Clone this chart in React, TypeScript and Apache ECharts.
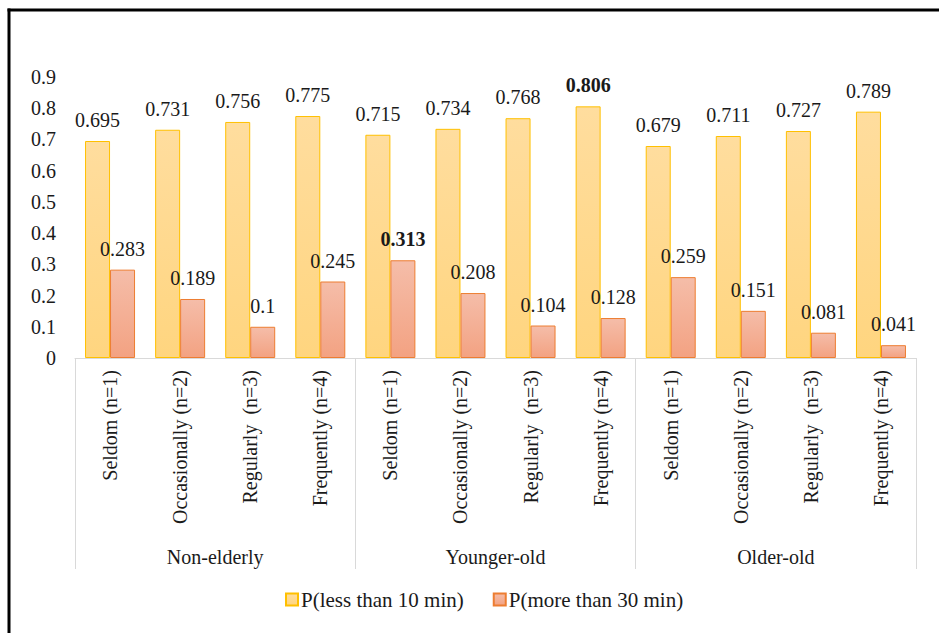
import React, { useEffect, useRef } from "react";
import * as echarts from "echarts";

// Frequency categories, repeated for each age group
const categories = [
  "Seldom (n=1)", "Occasionally (n=2)", "Regularly  (n=3)", "Frequently (n=4)",
  "Seldom (n=1)", "Occasionally (n=2)", "Regularly  (n=3)", "Frequently (n=4)",
  "Seldom (n=1)", "Occasionally (n=2)", "Regularly  (n=3)", "Frequently (n=4)",
];
const groups = ["Non-elderly", "Younger-old", "Older-old"];

const lessThan10 = [0.695, 0.731, 0.756, 0.775, 0.715, 0.734, 0.768, 0.806, 0.679, 0.711, 0.727, 0.789];
const moreThan30 = [0.283, 0.189, 0.1, 0.245, 0.313, 0.208, 0.104, 0.128, 0.259, 0.151, 0.081, 0.041];

const seriesNames = ["P(less than 10 min)", "P(more than 30 min)"];

const FONT = "Liberation Serif";
const TEXT = "#1a1a1a";

// Highlight the largest value of each series in bold
const withBoldMax = (values: number[]) => {
  const max = Math.max(...values);
  return values.map((v) =>
    v === max
      ? { value: v, label: { fontWeight: "bold" } }
      : { value: v, label: { fontWeight: "normal" } }
  );
};

const text = (extra: Record<string, unknown> = {}) => ({
  fontFamily: FONT,
  fontSize: 20,
  color: TEXT,
  ...extra,
});

export default function App() {
  const ref = useRef<HTMLDivElement>(null);

  useEffect(() => {
    if (!ref.current) return;
    const chart = echarts.init(ref.current, null, { renderer: "svg" });
    chart.setOption({
      animation: false,
      backgroundColor: "#ffffff",
      textStyle: text(),
      grid: { left: 75, right: 23, top: 77, bottom: 275, containLabel: false },
      legend: {
        data: seriesNames,
        left: 285,
        top: 589,
        padding: 0,
        icon: "rect",
        itemWidth: 12,
        itemHeight: 12,
        itemGap: 29,
        textStyle: text({ fontSize: 21, padding: [0, 0, 0, -2] }),
      },
      xAxis: [
        {
          type: "category",
          data: categories,
          axisLine: { show: true, lineStyle: { color: "#d9d9d9", width: 1 } },
          axisTick: { show: false },
          axisLabel: text({ rotate: 90, margin: 12, interval: 0 }),
        },
        {
          type: "category",
          data: groups,
          position: "bottom",
          offset: 211,
          axisLine: { show: false },
          axisTick: {
            show: true,
            inside: true,
            length: 211,
            lineStyle: { color: "#d9d9d9", width: 1 },
          },
          axisLabel: text({ inside: true, margin: 2, interval: 0 }),
        },
      ],
      yAxis: {
        type: "value",
        min: 0,
        max: 0.9,
        interval: 0.1,
        axisLine: { show: false },
        axisTick: { show: false },
        splitLine: { show: false },
        axisLabel: text({ margin: 19 }),
      },
      series: [
        {
          name: seriesNames[0],
          type: "bar",
          xAxisIndex: 0,
          barWidth: 25,
          barGap: "0%",
          data: withBoldMax(lessThan10),
          itemStyle: {
            color: new echarts.graphic.LinearGradient(0, 0, 0, 1, [
              { offset: 0, color: "#ffdd9e" },
              { offset: 1, color: "#ffd57f" },
            ]),
            borderColor: "#ffc000",
            borderWidth: 1,
          },
          label: text({ show: true, position: "top", distance: 11 }),
        },
        {
          name: seriesNames[1],
          type: "bar",
          xAxisIndex: 0,
          barWidth: 25,
          barGap: "0%",
          data: withBoldMax(moreThan30),
          itemStyle: {
            color: new echarts.graphic.LinearGradient(0, 0, 0, 1, [
              { offset: 0, color: "#f5bda9" },
              { offset: 1, color: "#f3a282" },
            ]),
            borderColor: "#ed7d31",
            borderWidth: 1,
          },
          label: text({ show: true, position: "top", distance: 11 }),
        },
      ],
      graphic: [
        {
          type: "line",
          shape: { x1: 7.5, y1: 10, x2: 939, y2: 10 },
          style: { stroke: "#000", lineWidth: 3 },
        },
        {
          type: "line",
          shape: { x1: 9, y1: 8.5, x2: 9, y2: 633 },
          style: { stroke: "#000", lineWidth: 3 },
        },
      ],
    });
    return () => chart.dispose();
  }, []);

  return (
    <div
      ref={ref}
      style={{ position: "fixed", left: 0, top: 0, width: 939, height: 633 }}
    />
  );
}
